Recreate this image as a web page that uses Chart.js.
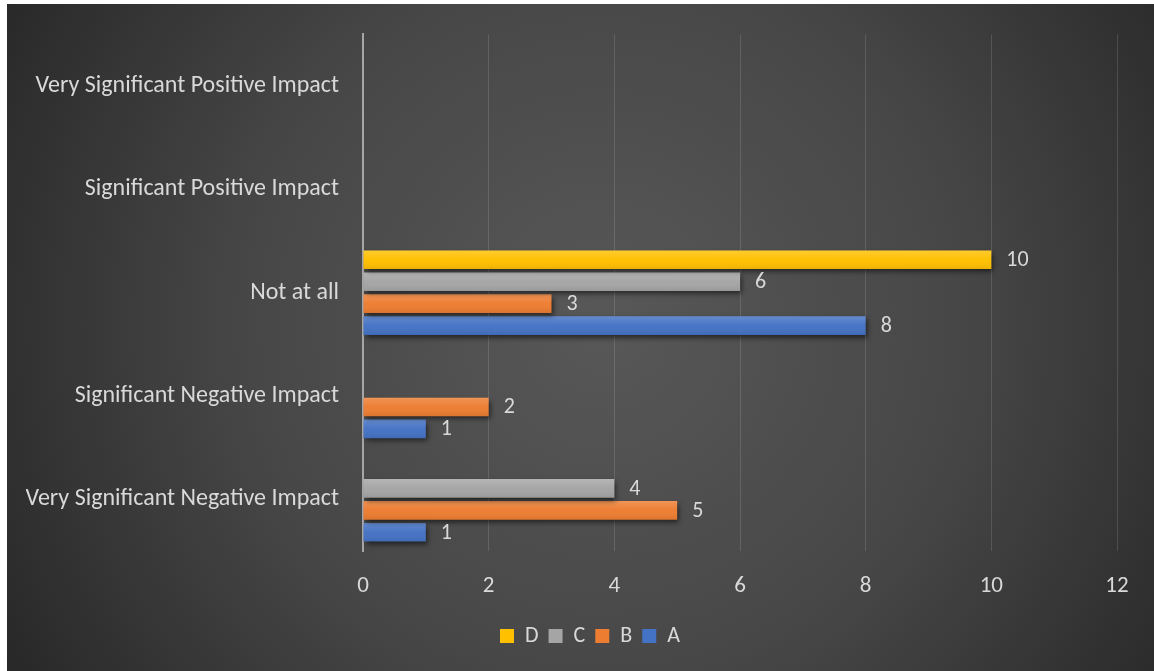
<!DOCTYPE html>
<html>
<head>
<meta charset="utf-8">
<script src="https://cdn.jsdelivr.net/npm/chart.js@4.4.1/dist/chart.umd.min.js"></script>
<style>
  html, body { margin: 0; padding: 0; background: #ffffff; width: 1154px; height: 671px; overflow: hidden; }
  #wrap { position: absolute; left: 7px; top: 4px; width: 1147px; height: 667px; }
</style>
</head>
<body>
<div id="wrap"><canvas id="c" width="1147" height="667"></canvas></div>
<script>
// Categories listed top to bottom
const categories = [
  "Very Significant Positive Impact",
  "Significant Positive Impact",
  "Not at all",
  "Significant Negative Impact",
  "Very Significant Negative Impact"
];
const seriesA = [0, 0, 8, 1, 1];
const seriesB = [0, 0, 3, 2, 5];
const seriesC = [0, 0, 6, 0, 4];
const seriesD = [0, 0, 10, 0, 0];
const xTicks = [0, 2, 4, 6, 8, 10, 12];

const FONT = "Calibri, Carlito, Lato, 'Open Sans', sans-serif";
const TXT = "#d9d9d9";

const bgPlugin = {
  id: 'bg',
  beforeDraw(chart) {
    const { ctx, width, height } = chart;
    const g = ctx.createRadialGradient(width * 0.52, height * 0.48, 0, width * 0.52, height * 0.48, width * 0.62);
    g.addColorStop(0, '#585858');
    g.addColorStop(0.5, '#474747');
    g.addColorStop(1, '#262626');
    ctx.save();
    ctx.fillStyle = g;
    ctx.fillRect(0, 0, width, height);
    ctx.restore();
  }
};

const barFx = {
  id: 'barFx',
  beforeDatasetDraw(chart) {
    const ctx = chart.ctx;
    ctx.save();
    ctx.shadowColor = 'rgba(0,0,0,0.55)';
    ctx.shadowBlur = 5;
    ctx.shadowOffsetX = 2;
    ctx.shadowOffsetY = 3;
  },
  afterDatasetDraw(chart, args) {
    const ctx = chart.ctx;
    ctx.restore();
    const meta = args.meta;
    ctx.save();
    meta.data.forEach((el, i) => {
      const v = chart.data.datasets[args.index].data[i];
      if (!v) return;
      const p = el.getProps(['x', 'y', 'base', 'height'], true);
      const top = p.y - p.height / 2;
      const g = ctx.createLinearGradient(0, top, 0, top + p.height);
      g.addColorStop(0, 'rgba(255,255,255,0.18)');
      g.addColorStop(0.5, 'rgba(255,255,255,0.02)');
      g.addColorStop(1, 'rgba(0,0,0,0.08)');
      ctx.fillStyle = g;
      ctx.fillRect(p.base, top, p.x - p.base, p.height);
    });
    ctx.restore();
  },
  afterDatasetsDraw(chart) {
    const ctx = chart.ctx;
    ctx.save();
    ctx.font = "22px " + FONT;
    ctx.fillStyle = TXT;
    ctx.textAlign = 'left';
    ctx.textBaseline = 'middle';
    chart.data.datasets.forEach((ds, di) => {
      const meta = chart.getDatasetMeta(di);
      meta.data.forEach((el, i) => {
        const v = ds.data[i];
        if (!v) return;
        const p = el.getProps(['x', 'y'], true);
        ctx.fillText(String(v), p.x + 15, p.y + 1);
      });
    });
    ctx.restore();
  }
};

new Chart(document.getElementById('c'), {
  type: 'bar',
  data: {
    labels: categories,
    datasets: [
      { label: 'D', data: seriesD, backgroundColor: '#ffc000' },
      { label: 'C', data: seriesC, backgroundColor: '#a5a5a5' },
      { label: 'B', data: seriesB, backgroundColor: '#ed7d31' },
      { label: 'A', data: seriesA, backgroundColor: '#4472c4' }
    ]
  },
  options: {
    indexAxis: 'y',
    responsive: false,
    animation: false,
    categoryPercentage: 0.85,
    barPercentage: 0.85,
    layout: { padding: { left: 19, top: 29, right: 0, bottom: 14 } },
    scales: {
      x: {
        min: 0, max: 12,
        afterBuildTicks(scale) { scale.ticks = xTicks.map(v => ({ value: v })); },
        afterFit(scale) { scale.height = 64; },
        grid: { color: 'rgba(255,255,255,0.13)', lineWidth: 1, drawTicks: false },
        border: { display: false },
        ticks: { color: TXT, font: { family: FONT, size: 23 }, padding: 21 }
      },
      y: {
        afterFit(scale) { scale.width = 337; },
        grid: { display: false },
        border: { display: true, color: '#a6a6a6', width: 2 },
        ticks: { color: TXT, font: { family: FONT, size: 24 }, padding: 16 }
      },
      spacer: {
        type: 'linear',
        position: 'right',
        display: true,
        afterFit(scale) { scale.width = 37; },
        grid: { display: false },
        border: { display: false },
        ticks: { display: false }
      }
    },
    plugins: {
      legend: {
        position: 'bottom',
        labels: { color: TXT, font: { family: FONT, size: 22 }, boxWidth: 14, boxHeight: 14, padding: 10 }
      },
      tooltip: { enabled: false }
    }
  },
  plugins: [bgPlugin, barFx]
});
</script>
</body>
</html>
